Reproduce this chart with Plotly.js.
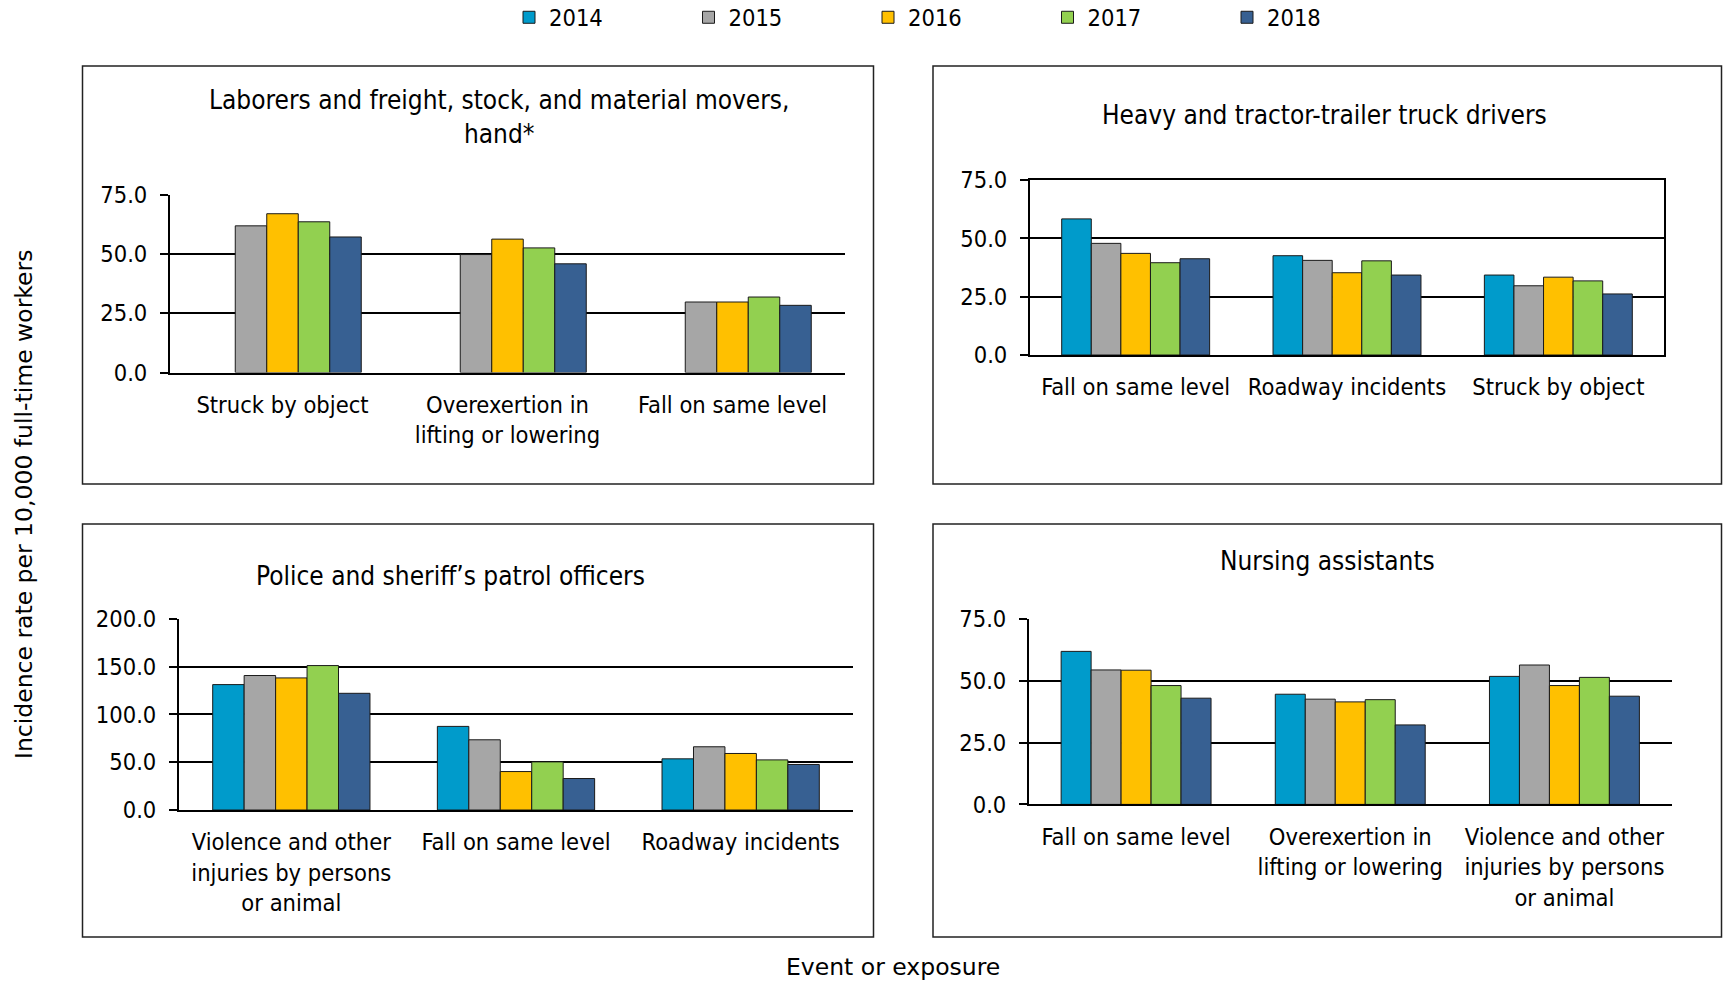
<!DOCTYPE html>
<html>
<head>
<meta charset="utf-8">
<script src="https://cdn.plot.ly/plotly-3.0.1.min.js"></script>
<style>html,body{margin:0;padding:0;background:#fff;overflow:hidden;}#chart{width:1723px;height:981px;}</style>
</head>
<body>
<div id="chart"></div>
<script>
// ---- data ----
const years = ['2014', '2015', '2016', '2017', '2018'];
const colors = ['#009BCB', '#A6A6A6', '#FFC000', '#92D050', '#376092'];

const laborersCats = ['Struck by object', 'Overexertion in<br>lifting or lowering', 'Fall on same level'];
const laborersVals = [
  [null, null, null],
  [61.8, 49.7, 29.7],
  [66.9, 56.2, 29.7],
  [63.5, 52.5, 31.8],
  [57.1, 45.8, 28.3]
];

const truckCats = ['Fall on same level', 'Roadway incidents', 'Struck by object'];
const truckVals = [
  [58.4, 42.6, 34.3],
  [47.9, 40.6, 29.7],
  [43.6, 35.3, 33.4],
  [39.6, 40.4, 31.8],
  [41.3, 34.3, 26.2]
];

const policeCats = ['Violence and other<br>injuries by persons<br>or animal', 'Fall on same level', 'Roadway incidents'];
const policeVals = [
  [131.1, 87.4, 53.5],
  [140.6, 73.4, 66.1],
  [138.1, 40.2, 59.1],
  [151.0, 50.3, 52.4],
  [122.0, 32.9, 47.6]
];

const nursingCats = ['Fall on same level', 'Overexertion in<br>lifting or lowering', 'Violence and other<br>injuries by persons<br>or animal'];
const nursingVals = [
  [61.8, 44.5, 51.7],
  [54.3, 42.5, 56.3],
  [54.2, 41.4, 48.0],
  [48.0, 42.3, 51.3],
  [42.9, 32.1, 43.7]
];

const panelTitles = [
  'Laborers and freight, stock, and material movers,<br>hand*',
  'Heavy and tractor-trailer truck drivers',
  'Police and sheriff\u2019s patrol officers',
  'Nursing assistants'
];
const yTitle = 'Incidence rate per 10,000 full-time workers';
const xTitle = 'Event or exposure';

// ---- layout helpers (pixel -> paper) ----
const W = 1723, H = 981;
const px = v => v / W;
const py = v => 1 - v / H;
const FONT = '"DejaVu Sans Condensed", "DejaVu Sans", sans-serif';
const FS = 23.5;

const panels = [
  {cats: laborersCats, vals: laborersVals, x: 'x', y: 'y', showleg: true},
  {cats: truckCats, vals: truckVals, x: 'x2', y: 'y2', showleg: false},
  {cats: policeCats, vals: policeVals, x: 'x3', y: 'y3', showleg: false},
  {cats: nursingCats, vals: nursingVals, x: 'x4', y: 'y4', showleg: false}
];

const traces = [];
panels.forEach(p => {
  years.forEach((yr, i) => {
    traces.push({
      type: 'bar',
      name: yr,
      x: p.cats,
      y: p.vals[i],
      xaxis: p.x,
      yaxis: p.y,
      legendgroup: yr,
      showlegend: p.showleg,
      marker: {color: colors[i], line: {color: '#1a1a1a', width: 1}},
      hoverinfo: 'x+y+name'
    });
  });
});

function xa(l, r, mirror) {
  return {
    domain: [px(l), px(r)],
    type: 'category',
    showline: true, linecolor: '#000', linewidth: 2,
    mirror: mirror,
    ticks: '', showgrid: false, zeroline: false,
    ticklabelstandoff: 10,
    tickfont: {family: FONT, size: FS, color: '#000'},
    automargin: false,
    fixedrange: true
  };
}
function ya(bottom, top, maxv, dt, mirror) {
  return {
    domain: [py(bottom), py(top)],
    range: [0, maxv],
    tickvals: Array.from({length: Math.round(maxv / dt) + 1}, (_, k) => k * dt),
    tickformat: '.1f',
    showline: true, linecolor: '#000', linewidth: 2,
    mirror: mirror,
    ticks: 'outside', ticklen: 8, tickwidth: 2, tickcolor: '#000',
    showgrid: true, gridcolor: '#000', gridwidth: 2,
    zeroline: false,
    ticklabelstandoff: 8,
    tickfont: {family: FONT, size: FS, color: '#000'},
    automargin: false,
    fixedrange: true
  };
}

const boxLine = {color: '#222', width: 1.5};
const shapes = [
  {type: 'rect', xref: 'paper', yref: 'paper', x0: px(82.5), x1: px(873.5), y0: py(484), y1: py(66), line: boxLine},
  {type: 'rect', xref: 'paper', yref: 'paper', x0: px(933), x1: px(1721.5), y0: py(484), y1: py(66), line: boxLine},
  {type: 'rect', xref: 'paper', yref: 'paper', x0: px(82.5), x1: px(873.5), y0: py(937), y1: py(524), line: boxLine},
  {type: 'rect', xref: 'paper', yref: 'paper', x0: px(933), x1: px(1721.5), y0: py(937), y1: py(524), line: boxLine}
];

const titlePos = [[499, 117.5], [1324, 115], [450, 576], [1327, 561]];
const annotations = panelTitles.map((t, i) => ({
  text: t, xref: 'paper', yref: 'paper',
  x: px(titlePos[i][0]), y: py(titlePos[i][1]),
  xanchor: 'center', yanchor: 'middle', showarrow: false,
  font: {family: FONT, size: 26, color: '#000'}
}));
annotations.push({
  text: yTitle, xref: 'paper', yref: 'paper', x: px(24), y: py(505),
  xanchor: 'center', yanchor: 'middle', textangle: -90, showarrow: false,
  font: {family: '"DejaVu Sans", sans-serif', size: 23.5, color: '#000'}
});
annotations.push({
  text: xTitle, xref: 'paper', yref: 'paper', x: px(893), y: py(967),
  xanchor: 'center', yanchor: 'middle', showarrow: false,
  font: {family: '"DejaVu Sans", sans-serif', size: 23.5, color: '#000'}
});

const layout = {
  width: W, height: H,
  margin: {l: 0, r: 0, t: 0, b: 0, pad: 0, autoexpand: false},
  paper_bgcolor: '#fff', plot_bgcolor: '#fff',
  barmode: 'group', bargap: 0.3, bargroupgap: 0,
  showlegend: true,
  legend: {
    orientation: 'h', x: px(509), y: py(17.5), xanchor: 'left', yanchor: 'middle',
    entrywidth: 134.5, entrywidthmode: 'pixels',
    font: {family: FONT, size: FS, color: '#000'},
    bgcolor: 'rgba(0,0,0,0)', borderwidth: 0, traceorder: 'normal'
  },
  xaxis: xa(170, 845, false),
  yaxis: ya(372.5, 194.5, 75, 25, false),
  xaxis2: Object.assign(xa(1030, 1664, true), {anchor: 'y2'}),
  yaxis2: Object.assign(ya(355, 180.2, 75, 25, true), {anchor: 'x2'}),
  xaxis3: Object.assign(xa(179, 853, false), {anchor: 'y3'}),
  yaxis3: Object.assign(ya(810, 618.7, 200, 50, false), {anchor: 'x3'}),
  xaxis4: Object.assign(xa(1029, 1671.5, false), {anchor: 'y4'}),
  yaxis4: Object.assign(ya(804.4, 618.7, 75, 25, false), {anchor: 'x4'}),
  shapes: shapes,
  annotations: annotations
};
layout.xaxis.anchor = 'y';
layout.yaxis.anchor = 'x';

Plotly.newPlot('chart', traces, layout, {displayModeBar: false, staticPlot: true});
</script>
</body>
</html>
